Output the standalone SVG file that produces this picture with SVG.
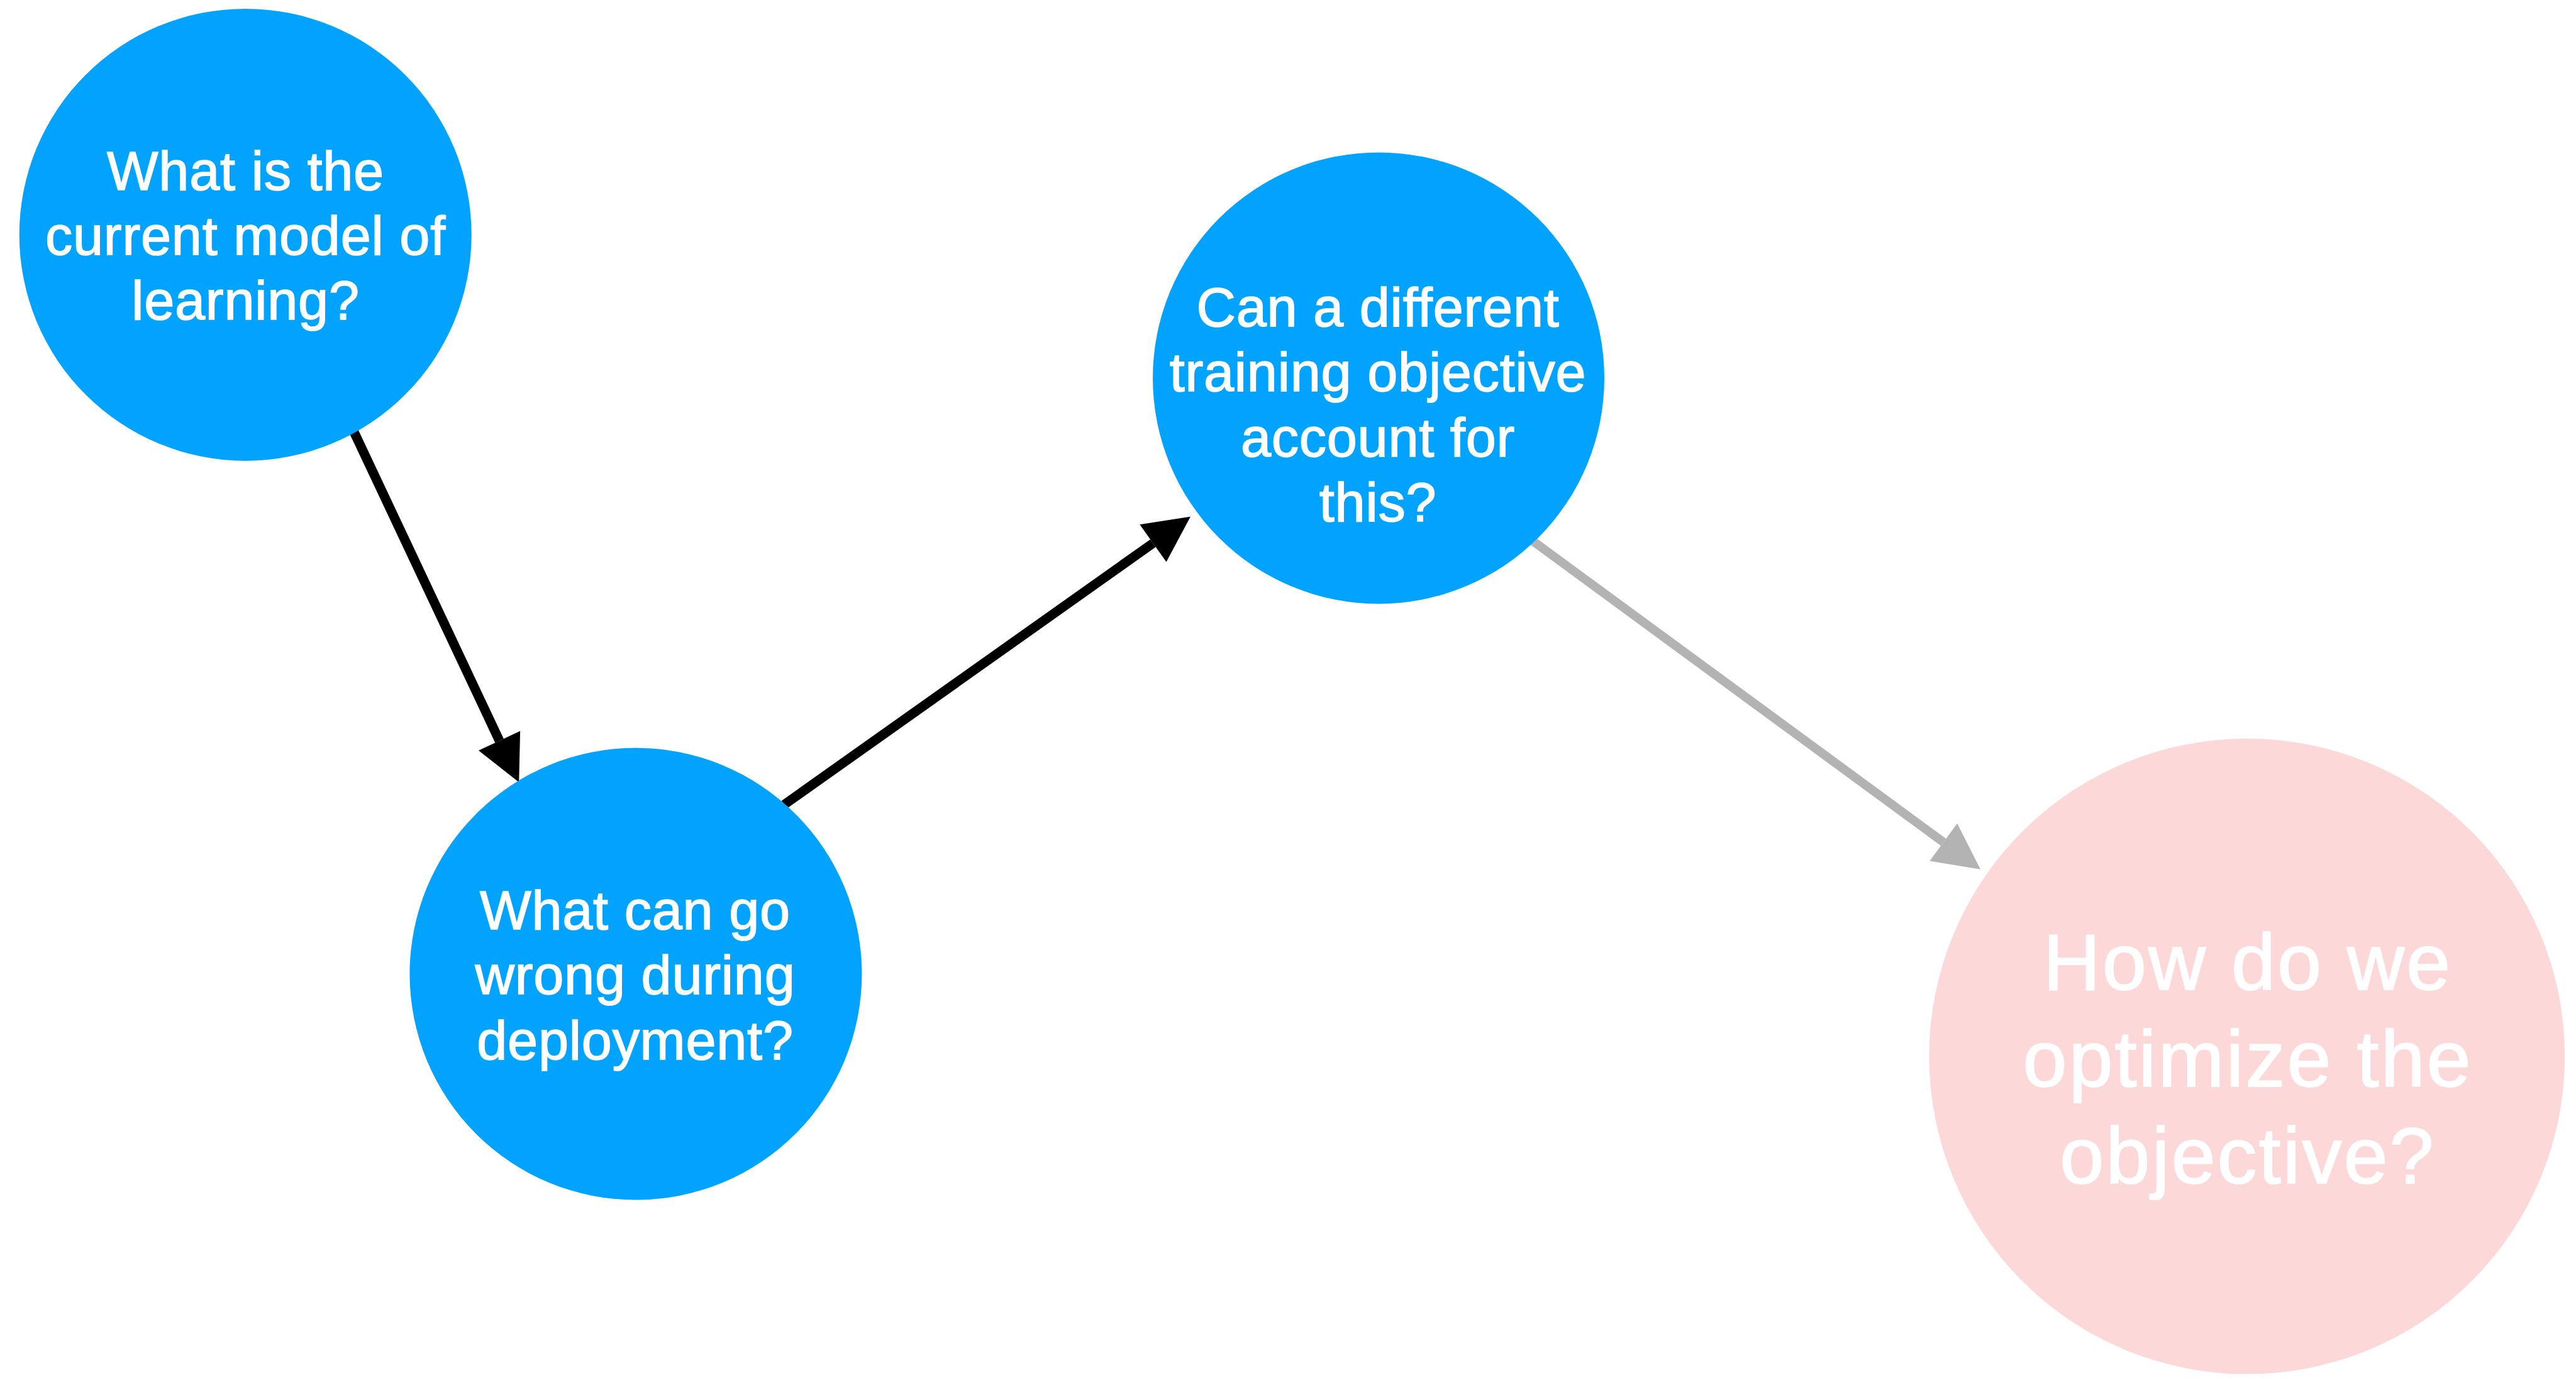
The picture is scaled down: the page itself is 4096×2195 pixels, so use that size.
<svg xmlns="http://www.w3.org/2000/svg" width="4096" height="2195" viewBox="0 0 4096 2195">
<style>
.blue{fill:#02A3FF}
.pink{fill:#FDD8D8}
.t{font-family:"Liberation Sans",Arial,Helvetica,sans-serif;fill:#FFFFFF;stroke:#FFFFFF;stroke-width:1.6px;text-anchor:middle;font-size:86.4px;letter-spacing:0.8px}
.tb{font-size:126px;letter-spacing:3px;stroke-width:2px}
.blk{stroke:#000000;stroke-width:15;fill:none}
.gry{stroke:#B3B3B3;stroke-width:14;fill:none}
</style>
<defs>
<marker id="ab" markerUnits="userSpaceOnUse" orient="auto" markerWidth="80" markerHeight="80" refX="0" refY="36.5" overflow="visible">
<path d="M0,0 L73,36.5 L0,73 Z" fill="#000000"/>
</marker>
<marker id="ag" markerUnits="userSpaceOnUse" orient="auto" markerWidth="80" markerHeight="80" refX="0" refY="37" overflow="visible">
<path d="M0,0 L73,37 L0,74 Z" fill="#B3B3B3"/>
</marker>
</defs>
<rect x="0" y="0" width="4096" height="2195" fill="#FFFFFF"/>
<g id="connectors">
<line class="blk" x1="563" y1="687.2" x2="794.1" y2="1178.2" marker-end="url(#ab)"/>
<line class="blk" x1="1246.8" y1="1280" x2="1833.4" y2="864" marker-end="url(#ab)"/>
<line class="gry" x1="2437.8" y1="860.9" x2="3090.2" y2="1339.6" marker-end="url(#ag)"/>
</g>
<g id="node1">
<circle class="blue" cx="390.2" cy="373.4" r="359.5"/>
<text class="t" x="390.5"><tspan x="390.5" y="302.3">What is the</tspan><tspan x="390.5" y="405.1">current model of</tspan><tspan x="390.5" y="507.8">learning?</tspan></text>
</g>
<g id="node2">
<circle class="blue" cx="1010.9" cy="1549.1" r="359.5"/>
<text class="t"><tspan x="1010" y="1477.9">What can go</tspan><tspan x="1010" y="1581.4">wrong during</tspan><tspan x="1010" y="1684.8">deployment?</tspan></text>
</g>
<g id="node3">
<circle class="blue" cx="2192" cy="601.4" r="359"/>
<text class="t"><tspan x="2191" y="518.8">Can a different</tspan><tspan x="2191" y="622.1">training objective</tspan><tspan x="2191" y="726">account for</tspan><tspan x="2191" y="829.4">this?</tspan></text>
</g>
<g id="node4">
<circle class="pink" cx="3572.8" cy="1680.2" r="505.4"/>
<text class="t tb"><tspan x="3574" y="1573.7">How do we</tspan><tspan x="3574" y="1728.1">optimize the</tspan><tspan x="3574" y="1881.8">objective?</tspan></text>
</g>
</svg>
